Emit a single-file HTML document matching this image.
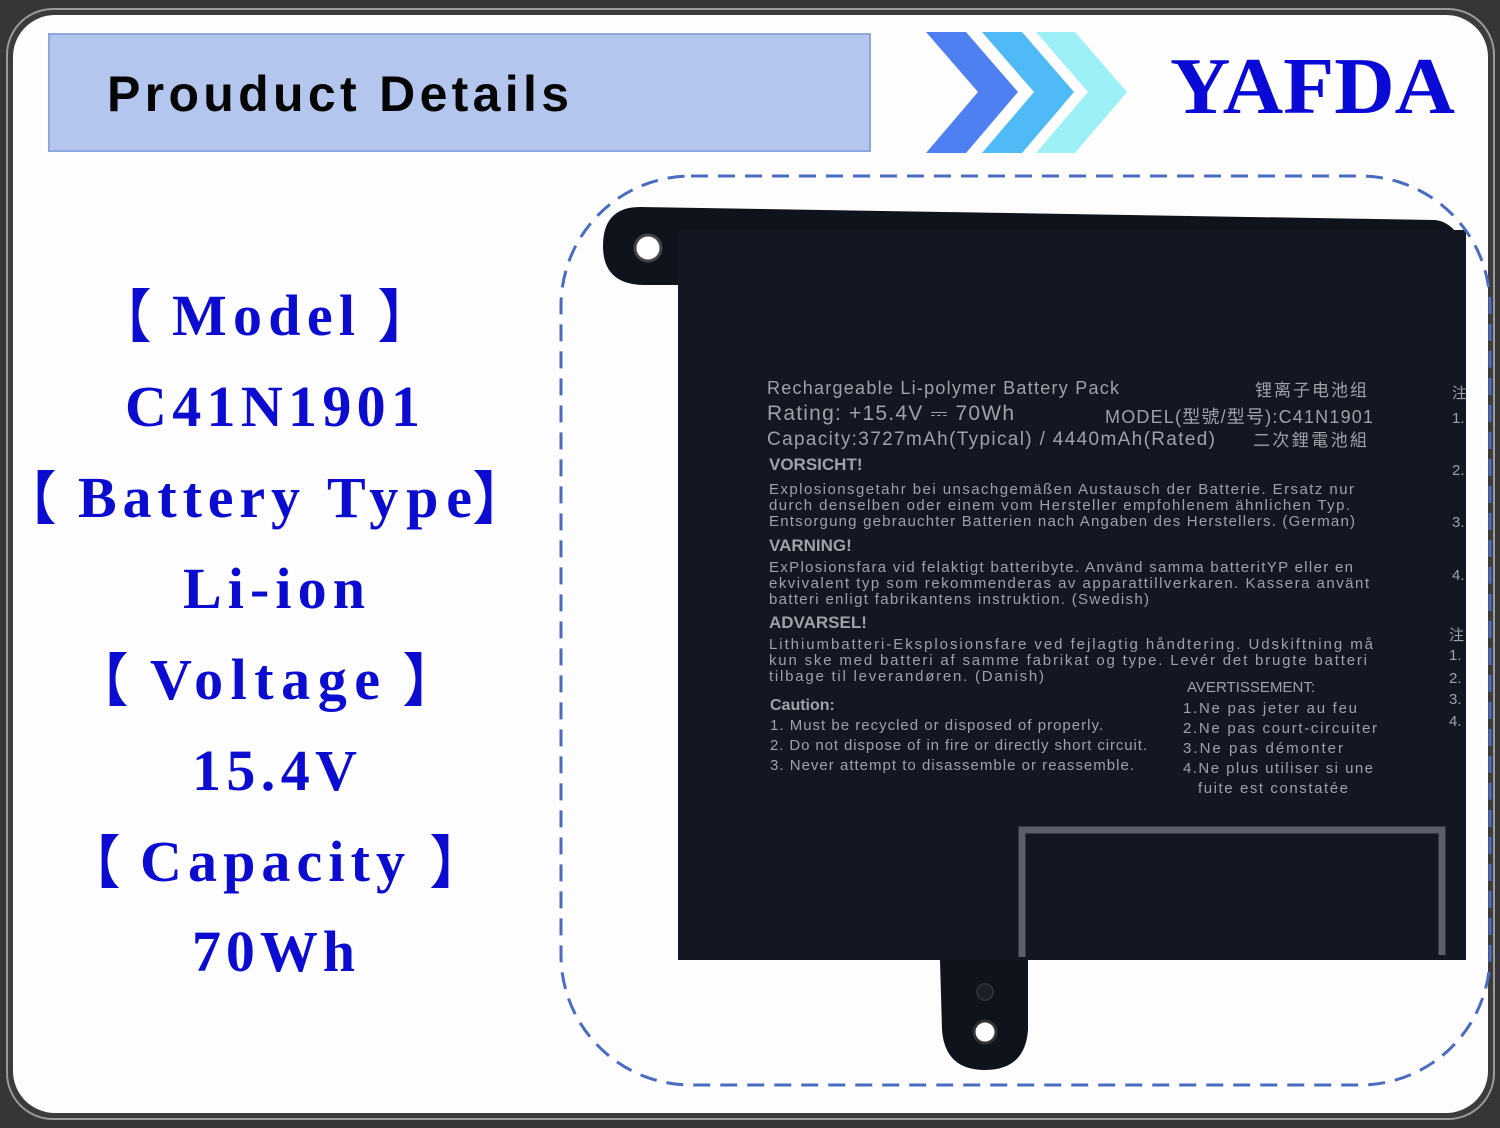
<!DOCTYPE html>
<html><head><meta charset="utf-8"><style>
html,body{margin:0;padding:0;background:#333;}
svg{display:block}
</style></head><body>
<svg width="1500" height="1128" viewBox="0 0 1500 1128" xmlns="http://www.w3.org/2000/svg">
<rect x="0" y="0" width="1500" height="1128" fill="#363636"/>
<rect x="7" y="9" width="1487" height="1110" rx="46" fill="#3c3c3c" stroke="#9a9a9a" stroke-width="2"/>
<rect x="13" y="15" width="1475" height="1098" rx="42" fill="#fdfdfd"/>
<!-- header -->
<rect x="49" y="34" width="821" height="117" fill="#b4c6ee" stroke="#8ea7df" stroke-width="2"/>
<text x="107" y="111" font-family="Liberation Sans, sans-serif" font-weight="bold" font-size="50" letter-spacing="3" fill="#050505" textLength="465">Prouduct Details</text>
<!-- logo chevrons -->
<polygon points="926,32 966,32 1018,92 966,153 926,153 978,92" fill="#4f80f2"/>
<polygon points="982,32 1022,32 1074,92 1022,153 982,153 1034,92" fill="#4fbaf5"/>
<polygon points="1036,32 1075,32 1127,92 1075,153 1036,153 1088,92" fill="#9df0f5"/>
<text x="1170" y="113" font-family="Liberation Serif, serif" font-weight="bold" font-size="80" fill="#0a0ad6" textLength="285" lengthAdjust="spacingAndGlyphs">YAFDA</text>
<!-- left column -->
<g font-family="Liberation Serif, serif" font-weight="bold" font-size="58" fill="#0c0cd0">
<text x="172" y="335" textLength="183">Model</text>
<text x="125" y="426" textLength="295">C41N1901</text>
<text x="78" y="517" textLength="222">Battery</text>
<text x="327" y="517" textLength="145">Type</text>
<text x="183" y="608" textLength="182">Li-ion</text>
<text x="150" y="699" textLength="230">Voltage</text>
<text x="192" y="790" textLength="165">15.4V</text>
<text x="140" y="881" textLength="265">Capacity</text>
<text x="192" y="971" textLength="163">70Wh</text>
</g>
<g font-family="'Noto Sans CJK SC', sans-serif" font-size="58" fill="#0c0cd0">
<text x="94" y="337">【</text>
<text x="377" y="337">】</text>
<text x="-1" y="519">【</text>
<text x="472" y="519">】</text>
<text x="71" y="701">【</text>
<text x="402" y="701">】</text>
<text x="63" y="883">【</text>
<text x="429" y="883">】</text>
</g>
<!-- battery -->
<path d="M640,207 L1435,220 Q1455,222 1466,250 L1466,960 L1028,960 L1028,1030 Q1025,1070 985,1070 Q945,1070 942,1030 L940,960 L678,960 L678,285 L645,285 Q603,285 603,246 Q603,207 640,207 Z" fill="#0f131c"/>
<rect x="678" y="230" width="788" height="730" fill="#121722"/>
<circle cx="648" cy="248" r="13" fill="#fff" stroke="#444" stroke-width="3"/>
<circle cx="985" cy="1032" r="11" fill="#fff" stroke="#333" stroke-width="3"/>
<circle cx="985" cy="992" r="8" fill="#1c1f26" stroke="#2c2f36" stroke-width="2"/>
<path d="M1022,957 L1022,830 L1442,830 L1442,955" fill="none" stroke="#5a5f68" stroke-width="7"/>
<g font-family="Liberation Sans, 'Noto Sans CJK SC', sans-serif" fill="#9ea1a8">
<text x="767" y="394" font-size="18" textLength="352">Rechargeable Li-polymer Battery Pack</text>
<text x="767" y="420" font-size="21" textLength="247">Rating: +15.4V ⎓ 70Wh</text>
<text x="767" y="445" font-size="19" textLength="448">Capacity:3727mAh(Typical) / 4440mAh(Rated)</text>
<text x="1255" y="396" font-size="17" textLength="112">锂离子电池组</text>
<text x="1105" y="423" font-size="18" textLength="268">MODEL(型號/型号):C41N1901</text>
<text x="1253" y="446" font-size="17" textLength="114">二次鋰電池組</text>
<g font-size="15">
<text x="769" y="470" font-weight="bold" font-size="17">VORSICHT!</text>
<text x="769" y="494" textLength="585">Explosionsgetahr bei unsachgemäßen Austausch der Batterie. Ersatz nur</text>
<text x="769" y="510" textLength="581">durch denselben oder einem vom Hersteller empfohlenem ähnlichen Typ.</text>
<text x="769" y="526" textLength="586">Entsorgung gebrauchter Batterien nach Angaben des Herstellers. (German)</text>
<text x="769" y="551" font-weight="bold" font-size="17">VARNING!</text>
<text x="769" y="572" textLength="584">ExPlosionsfara vid felaktigt batteribyte. Använd samma batteritYP eller en</text>
<text x="769" y="588" textLength="600">ekvivalent typ som rekommenderas av apparattillverkaren. Kassera använt</text>
<text x="769" y="604" textLength="380">batteri enligt fabrikantens instruktion. (Swedish)</text>
<text x="769" y="628" font-weight="bold" font-size="17">ADVARSEL!</text>
<text x="769" y="649" textLength="604">Lithiumbatteri-Eksplosionsfare ved fejlagtig håndtering. Udskiftning må</text>
<text x="769" y="665" textLength="598">kun ske med batteri af samme fabrikat og type. Levér det brugte batteri</text>
<text x="769" y="681" textLength="275">tilbage til leverandøren. (Danish)</text>
<text x="1187" y="692" textLength="128">AVERTISSEMENT:</text>
<text x="770" y="710" font-weight="bold" font-size="16">Caution:</text>
<text x="770" y="730" textLength="333">1. Must be recycled or disposed of properly.</text>
<text x="770" y="750" textLength="377">2. Do not dispose of in fire or directly short circuit.</text>
<text x="770" y="770" textLength="364">3. Never attempt to disassemble or reassemble.</text>
<text x="1183" y="713" textLength="174">1.Ne pas jeter au feu</text>
<text x="1183" y="733" textLength="194">2.Ne pas court-circuiter</text>
<text x="1183" y="753" textLength="160">3.Ne pas démonter</text>
<text x="1183" y="773" textLength="190">4.Ne plus utiliser si une</text>
<text x="1198" y="793" textLength="150">fuite est constatée</text>
<text x="1452" y="398">注</text>
<text x="1452" y="423">1.</text>
<text x="1452" y="475">2.</text>
<text x="1452" y="527">3.</text>
<text x="1452" y="580">4.</text>
<text x="1449" y="640">注</text>
<text x="1449" y="660">1.</text>
<text x="1449" y="683">2.</text>
<text x="1449" y="704">3.</text>
<text x="1449" y="726">4.</text>
</g>
</g>
<!-- dashed frame -->
<rect x="561" y="176" width="929" height="909" rx="130" fill="none" stroke="#4a6cc0" stroke-width="3" stroke-dasharray="17 10"/>
</svg>
</body></html>
